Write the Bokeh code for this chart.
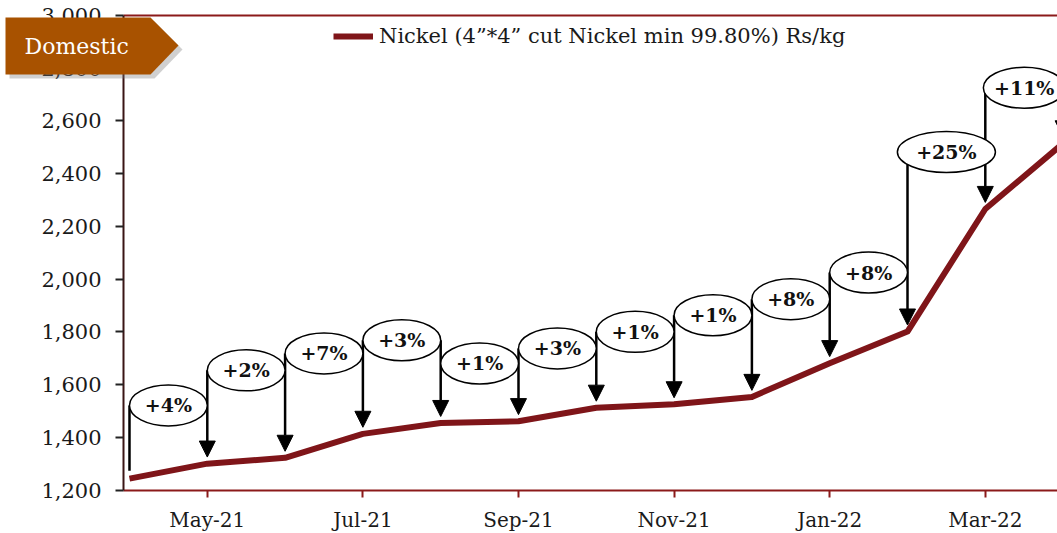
from bokeh.plotting import figure
from bokeh.models import (ColumnDataSource, FixedTicker, NumeralTickFormatter, Arrow, NormalHead,
                          Legend, LegendItem, PolyAnnotation, Label, Range1d, LinearAxis)
from bokeh.embed import file_html
from bokeh.resources import INLINE
from bokeh.core.properties import value

# ---------------- data ----------------
months = ["Apr-21", "May-21", "Jun-21", "Jul-21", "Aug-21", "Sep-21", "Oct-21",
          "Nov-21", "Dec-21", "Jan-22", "Feb-22", "Mar-22", "Apr-22"]
prices = [1243, 1300, 1322, 1413, 1454, 1461, 1512, 1525, 1553, 1681, 1801, 2266, 2515]
changes = ["+4%", "+2%", "+7%", "+3%", "+1%", "+3%", "+1%", "+1%", "+8%", "+8%", "+25%", "+11%"]
callout_y = [1521, 1654, 1718, 1768, 1680, 1737, 1800, 1863, 1924, 2025, 2482, 2726]
tick_months = ["May-21", "Jul-21", "Sep-21", "Nov-21", "Jan-22", "Mar-22"]
y_ticks = [1200, 1400, 1600, 1800, 2000, 2200, 2400, 2600, 2800, 3000]
series_name = "Nickel (4\u201d*4\u201d cut Nickel min 99.80%) Rs/kg"
banner_text = "Domestic"

# ---------------- styles ----------------
callout_w = [1.0, 1.0, 1.0, 1.0, 1.0, 1.0, 1.0, 1.0, 1.0, 1.0, 1.26, 1.05]
LINE_RED = "#7F1519"
AXIS_RED = "#8B1A1A"
FONT = "DejaVu Serif"

X_LO, X_HI = -0.077, 11.928          # extent of the plotting box
Y_LO, Y_HI = y_ticks[0], y_ticks[-1]
xi = list(range(len(months)))

p = figure(width=1057, height=533, output_backend="svg", toolbar_location=None,
           x_range=Range1d(-1.658, X_HI), y_range=Range1d(1035, 3057),
           min_border_left=0, min_border_right=0, min_border_top=0, min_border_bottom=0)
p.outline_line_color = None
p.xgrid.visible = False
p.ygrid.visible = False
p.background_fill_color = "white"

# stems and arrows
n = len(months)
arrow_src = ColumnDataSource(dict(
    x0=[k for k in range(1, n)],
    y0=[max(callout_y[k - 1], callout_y[k] if k < n - 1 else callout_y[k - 1]) for k in range(1, n)],
    x1=[k for k in range(1, n)],
    y1=[prices[k] + 25 for k in range(1, n)],
))
arrows = Arrow(source=arrow_src, x_start="x0", y_start="y0", x_end="x1", y_end="y1",
               line_color="black", line_width=2.5, level="underlay",
               end=NormalHead(size=16, fill_color="black", line_color="black", line_width=1))
p.add_layout(arrows)
p.segment(x0=[xi[0]], y0=[callout_y[0]], x1=[xi[0]], y1=[prices[0] + 30],
          line_color="black", line_width=2.5)

# main line
line_r = p.line(xi, prices, line_color=LINE_RED, line_width=6, line_join="round")

# callout ellipses
mid = [i + 0.5 for i in range(len(changes))]
p.ellipse(x=mid, y=callout_y, width=callout_w, height=41, height_units="screen",
          fill_color="white", line_color="black", line_width=1.5)
p.text(x=mid, y=callout_y, text=changes, text_font=value(FONT), text_font_style="bold",
       text_font_size="19px", text_align="center", text_baseline="middle", text_color="#111111")

# top border as an unlabeled axis
top_axis = LinearAxis(ticker=FixedTicker(ticks=[]), bounds=(X_LO, X_HI), fixed_location=Y_HI,
                      axis_line_color=AXIS_RED, axis_line_width=2,
                      major_tick_line_color=None, minor_tick_line_color=None,
                      major_label_text_font_size="0px")
p.add_layout(top_axis, "above")

# y axis
yax = p.left[0]
yax.fixed_location = X_LO
yax.bounds = (Y_LO, Y_HI)
yax.ticker = FixedTicker(ticks=y_ticks)
yax.formatter = NumeralTickFormatter(format="0,0")
yax.major_tick_in = 0
yax.major_tick_out = 8
yax.minor_tick_line_color = None
yax.axis_line_color = "#3A1515"
yax.axis_line_width = 2
yax.major_tick_line_color = "#222222"
yax.major_tick_line_width = 2
yax.major_label_standoff = 14
yax.major_label_text_font = FONT
yax.major_label_text_font_size = "21px"
yax.major_label_text_color = "#1a1a1a"

# x axis
tick_idx = [months.index(m) for m in tick_months]
xax = p.below[0]
xax.fixed_location = Y_LO
xax.bounds = (X_LO, X_HI)
xax.ticker = FixedTicker(ticks=tick_idx)
xax.major_label_overrides = {i: months[i] for i in tick_idx}
xax.major_tick_in = 0
xax.major_tick_out = 7
xax.minor_tick_line_color = None
xax.axis_line_color = AXIS_RED
xax.axis_line_width = 2
xax.major_tick_line_color = AXIS_RED
xax.major_tick_line_width = 2
xax.major_label_standoff = 11
xax.major_label_text_font = FONT
xax.major_label_text_font_size = "20px"
xax.major_label_text_color = "#1a1a1a"

# legend
legend = Legend(items=[LegendItem(label=series_name, renderers=[line_r])],
                location=(333, 485), orientation="horizontal",
                border_line_color=None, background_fill_alpha=0,
                label_text_font=FONT, label_text_font_size="21px", label_text_color="#1a1a1a",
                glyph_width=40, glyph_height=22, label_standoff=6, padding=0, margin=0)
p.add_layout(legend)

# banner
p.add_layout(PolyAnnotation(xs=[9, 154, 182, 154, 9], ys=[21, 21, 49, 78, 78],
                            xs_units="canvas", ys_units="canvas",
                            fill_color="#777777", fill_alpha=0.35, line_color=None, level="overlay"))
p.add_layout(PolyAnnotation(xs=[5, 150, 178, 150, 5], ys=[17, 17, 45, 74, 74],
                            xs_units="canvas", ys_units="canvas",
                            fill_color="#A85200", fill_alpha=1, line_color=None, level="overlay"))
p.add_layout(Label(x=24, y=46, x_units="canvas", y_units="canvas", text=banner_text,
                   text_color="white", text_font=FONT, text_font_size="22px",
                   text_baseline="middle", level="overlay"))

open("out.html", "w").write(file_html(p, INLINE))
